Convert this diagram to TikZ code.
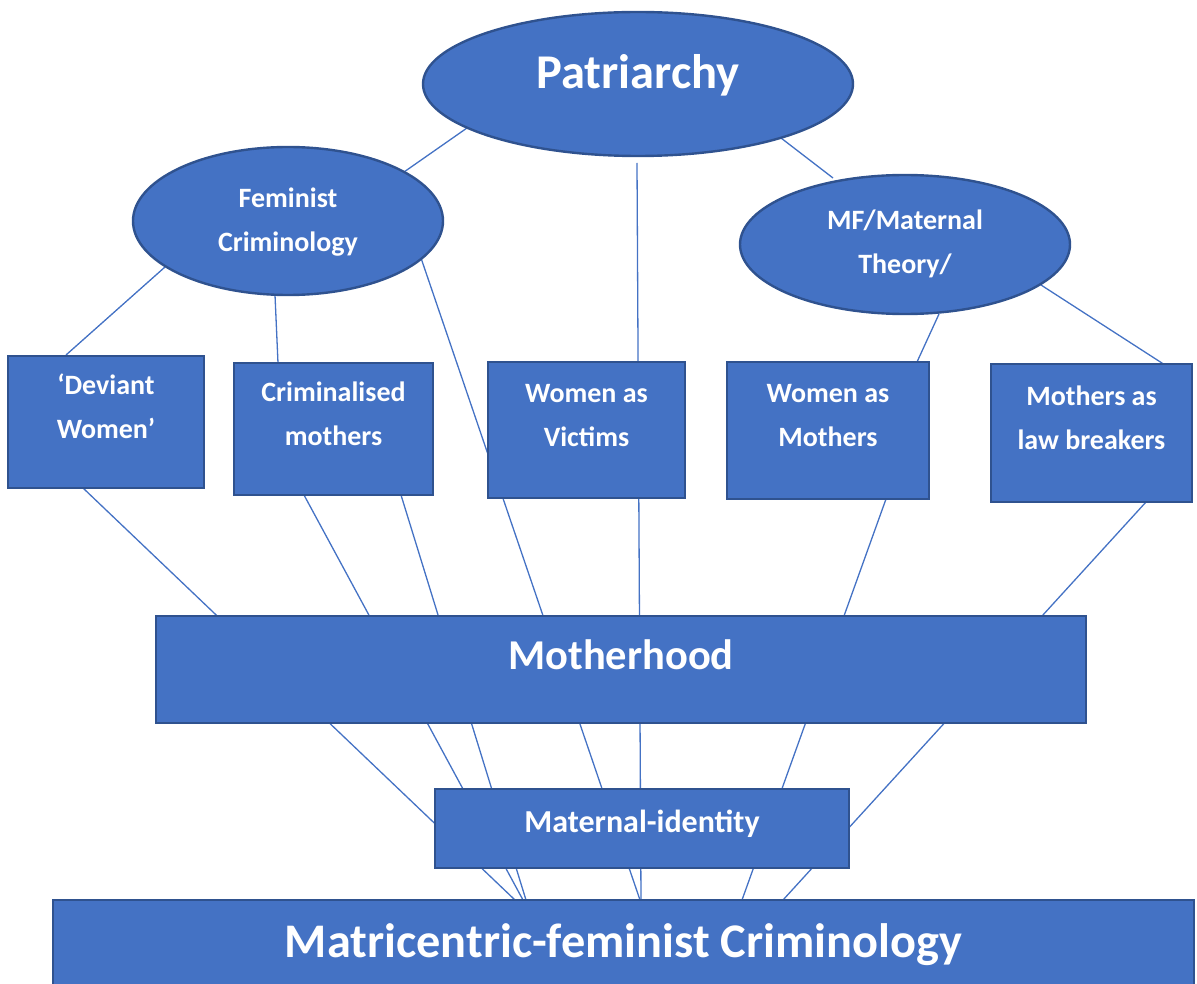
\documentclass[tikz,border=0pt]{standalone}
\usepackage{fontspec}
\setmainfont{Carlito}
\usetikzlibrary{shapes.geometric}
\definecolor{fillblue}{HTML}{4472C4}
\definecolor{edgeblue}{HTML}{2F528F}
\definecolor{lineblue}{HTML}{4472C4}
\pgfdeclarelayer{bg}
\pgfsetlayers{bg,main}
\newcommand{\twolines}[2]{\begin{tabular}[t]{@{}c@{}}#1\\#2\end{tabular}}
\begin{document}
\begin{tikzpicture}[x=1pt,y=-1pt,
  shapebase/.style={fill=fillblue,draw=edgeblue,line width=2.4pt,text=white,inner sep=0pt,font=\bfseries},
  oval/.style={shapebase,ellipse},
  boxnode/.style={shapebase,rectangle},
  smalltext/.style={font=\bfseries\fontsize{28}{44}\selectfont},
  conn/.style={draw=lineblue,line width=1.3pt}]
\useasboundingbox (0,0) rectangle (1197,984);
\clip (0,0) rectangle (1197,984);
% nodes
\node[oval,minimum width=430,minimum height=144,font=\bfseries\fontsize{48.5}{52}\selectfont,text height=40,text depth=30] (patr) at (638,84) {Patriarchy};
\node[oval,smalltext,minimum width=310,minimum height=148,text height=20,text depth=46] (fem) at (288,221) {\twolines{Feminist}{Criminology}};
\node[oval,smalltext,minimum width=330,minimum height=139,text height=20,text depth=49] (mf) at (905,244.5) {\twolines{MF/Maternal}{Theory/}};
\node[boxnode,smalltext,minimum width=196,minimum height=132,text height=20,text depth=76] (dev) at (106,422) {\twolines{‘Deviant}{Women’}};
\node[boxnode,smalltext,minimum width=199,minimum height=132,text height=20,text depth=76] (crim) at (333.5,429) {\twolines{Criminalised}{mothers}};
\node[boxnode,smalltext,minimum width=197,minimum height=136,text height=20,text depth=76] (vic) at (586.5,430) {\twolines{Women as}{Victims}};
\node[boxnode,smalltext,minimum width=202,minimum height=137,text height=20,text depth=76] (wam) at (828,430.5) {\twolines{Women as}{Mothers}};
\node[boxnode,smalltext,minimum width=201,minimum height=138,text height=20,text depth=76] (mlb) at (1091.5,433) {\twolines{Mothers as}{law breakers}};
\node[boxnode,minimum width=930,minimum height=107,font=\bfseries\fontsize{42.5}{46}\selectfont,text height=30,text depth=31] (moth) at (621,669.5) {Motherhood};
\node[boxnode,minimum width=414,minimum height=79,font=\bfseries\fontsize{32}{36}\selectfont,text height=25,text depth=18] (mid) at (642,828.5) {Maternal-identity};
\node[boxnode,minimum width=1141,minimum height=120,font=\bfseries\fontsize{48.3}{52}\selectfont,text height=30,text depth=36] (mfc) at (623.5,960) {Matricentric-feminist Criminology};
% connector end points
\coordinate (pfA) at (467,128);  \coordinate (pfB) at (404,172);
\coordinate (pmA) at (781,138);  \coordinate (pmB) at (833,178);
\coordinate (pcA) at (637,163);  \coordinate (pcB) at (641,900);
\coordinate (fdA) at (165,267);  \coordinate (fdB) at (66,355);
\coordinate (fcA) at (275,295);  \coordinate (fcB) at (278,363);
\coordinate (fmA) at (421,258);  \coordinate (fmB) at (640,900);
\coordinate (mwA) at (939,314);  \coordinate (mwB) at (917,362);
\coordinate (mlA) at (1041,285); \coordinate (mlB) at (1165,365);
\coordinate (dmA) at (83,488);   \coordinate (dmB) at (515,900);
\coordinate (cmA) at (304,495);  \coordinate (cmB) at (523,900);
\coordinate (ckA) at (401,495);  \coordinate (ckB) at (526,900);
\coordinate (wmA) at (886,499);  \coordinate (wmB) at (742,900);
\coordinate (lmA) at (1146,502); \coordinate (lmB) at (783,900);
\begin{pgfonlayer}{bg}
\draw[conn] (pfA) -- (pfB);
\draw[conn] (pmA) -- (pmB);
\draw[conn] (pcA) -- (pcB);
\draw[conn] (fdA) -- (fdB);
\draw[conn] (fcA) -- (fcB);
\draw[conn] (fmA) -- (fmB);
\draw[conn] (mwA) -- (mwB);
\draw[conn] (mlA) -- (mlB);
\draw[conn] (dmA) -- (dmB);
\draw[conn] (cmA) -- (cmB);
\draw[conn] (ckA) -- (ckB);
\draw[conn] (wmA) -- (wmB);
\draw[conn] (lmA) -- (lmB);
\end{pgfonlayer}
\end{tikzpicture}
\end{document}
